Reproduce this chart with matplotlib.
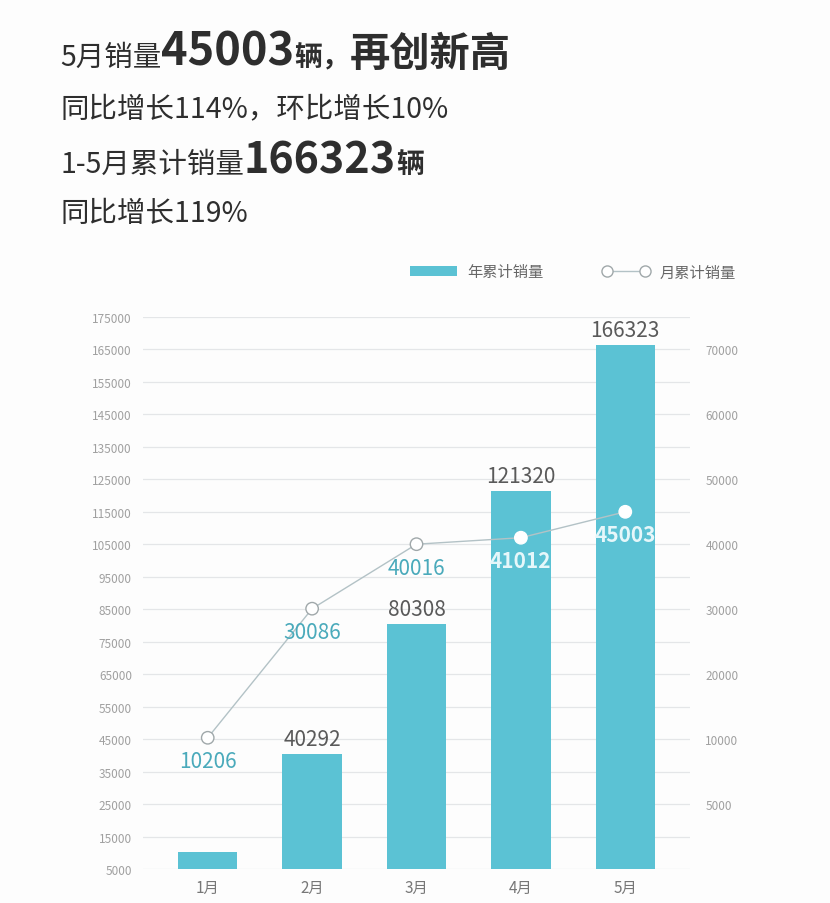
import matplotlib
matplotlib.use("Agg")
import matplotlib.pyplot as plt
from matplotlib.patches import Patch
from matplotlib.lines import Line2D

plt.rcParams['font.family'] = ['Noto Sans CJK SC', 'DejaVu Sans']

months = ["1月", "2月", "3月", "4月", "5月"]
ytd_sales = [10206, 40292, 80308, 121320, 166323]      # 年累计销量 (bars)
monthly_sales = [10206, 30086, 40016, 41012, 45003]    # 月累计销量 (line)
bar_labels = ["", "40292", "80308", "121320", "166323"]
left_ticks = list(range(5000, 175001, 10000))
right_ticks = [0, 10000, 20000, 30000, 40000, 50000, 60000, 70000]
right_tick_labels = ["5000", "10000", "20000", "30000", "40000", "50000", "60000", "70000"]

W, H = 830, 904
fig = plt.figure(figsize=(W / 100, H / 100), dpi=100)
fig.patch.set_facecolor("#fdfdfd")

bar_color = "#5bc2d4"
teal_text = "#4aaabb"

# ---- header text, drawn piece by piece on a shared baseline
renderer = fig.canvas.get_renderer()

def text_run(x_px, y_px, pieces):
    x = x_px / W
    for s, size, weight in pieces:
        t = fig.text(x, 1 - y_px / H, s, fontsize=size, fontweight=weight,
                     color="#2e2e2e", va="baseline", ha="left")
        bb = t.get_window_extent(renderer)
        x = bb.x1 / W

text_run(60, 66, [("5月销量", 20.5, "light"), ("45003", 32.5, "bold"),
                  ("辆，", 20, "bold"), ("再创新高", 29, "bold")])
text_run(60, 117, [("同比增长114%，环比增长10%", 20.5, "light")])
text_run(60, 173, [("1-5月累计销量", 20.5, "light"), ("166323", 31, "bold"),
                   ("辆", 20, "bold")])
text_run(60, 222, [("同比增长119%", 20.5, "light")])

# ---- chart
ax = fig.add_axes([143 / W, 1 - 870 / H, (690 - 143) / W, (870 - 318) / H])
ax.set_facecolor("none")
x = list(range(len(months)))

ax.bar(x, ytd_sales, width=0.57, color=bar_color, zorder=2)
ax.set_xlim(-0.62, 4.62)
ax.set_ylim(5000, 175000)
ax.set_yticks(left_ticks)
ax.set_yticklabels([str(v) for v in left_ticks])
ax.grid(axis="y", color="#e4e6e8", lw=0.9, zorder=0)
ax.set_axisbelow(True)
for sp in ax.spines.values():
    sp.set_visible(False)
ax.tick_params(axis="y", length=0, pad=8, labelsize=8.5, labelcolor="#a0a0a0")
ax.set_xticks(x)
ax.set_xticklabels(months)
ax.tick_params(axis="x", length=0, pad=7, labelsize=11, labelcolor="#777777")

for xi, v, lab in zip(x, ytd_sales, bar_labels):
    if lab:
        ax.annotate(lab, (xi, v), xytext=(0, 3), textcoords="offset points",
                    ha="center", va="bottom", fontsize=15, color="#5a5a5a")

# right axis for monthly sales: right value r sits at left value 25000 + 2r
ax2 = ax.twinx()
lo, hi = ax.get_ylim()
ax2.set_ylim((lo - 25000) / 2, (hi - 25000) / 2)
ax2.set_yticks(right_ticks)
ax2.set_yticklabels(right_tick_labels)
ax2.tick_params(axis="y", length=0, pad=11, labelsize=8.5, labelcolor="#a0a0a0")
for sp in ax2.spines.values():
    sp.set_visible(False)

ax2.plot(x, monthly_sales, color="#b3c2c6", lw=1, zorder=3)
edge_cols = ["#a0a8aa", "#a0a8aa", "#a0a8aa", "white", "white"]
ax2.scatter(x, monthly_sales, s=80, facecolors="white", edgecolors=edge_cols,
            linewidths=1, zorder=4, clip_on=False)
label_cols = [teal_text, teal_text, teal_text, "#e6f7fa", "#e6f7fa"]
for xi, v, c in zip(x, monthly_sales, label_cols):
    ax2.annotate(str(v), (xi, v), xytext=(0, -9), textcoords="offset points",
                 ha="center", va="top", fontsize=15, color=c,
                 fontweight="bold" if c != teal_text else "normal")

# ---- legend
handles = [Patch(facecolor=bar_color, edgecolor="none"),
           Line2D([0], [0], color="#b3c2c6", lw=1, marker="o", markersize=8,
                  markerfacecolor="white", markeredgecolor="#a0a8aa")]
fig.legend(handles, ["年累计销量", "月累计销量"], loc="center", ncol=2,
           bbox_to_anchor=(573 / W, 1 - 273 / H), frameon=False, fontsize=11,
           labelcolor="#666666", handlelength=3.1, handleheight=0.6,
           handletextpad=0.7, columnspacing=3.8, numpoints=2)

fig.savefig("out.png", dpi=100, facecolor=fig.get_facecolor())
